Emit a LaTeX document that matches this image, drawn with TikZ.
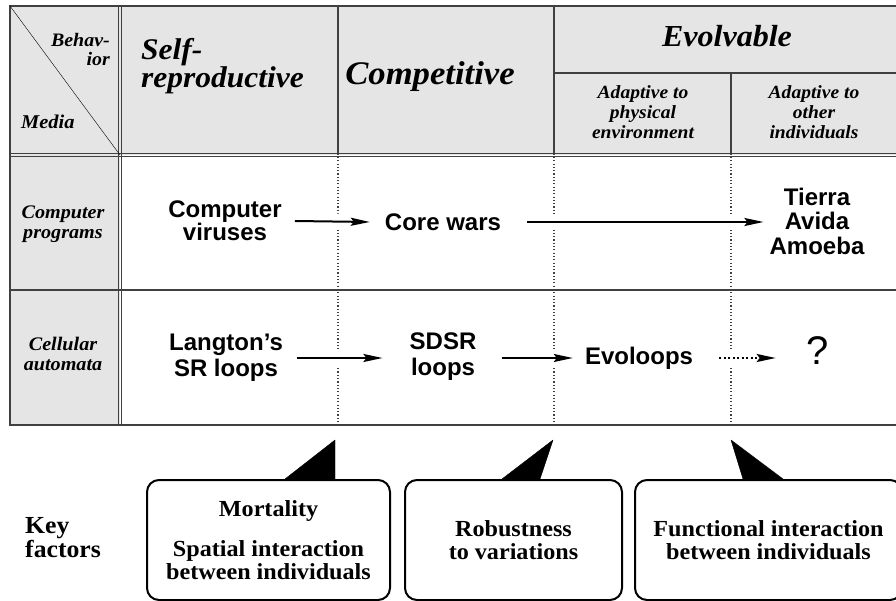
\documentclass[tikz,border=0pt]{standalone}
\usepackage{fontspec}
\setmainfont{Liberation Serif}[FakeStretch=1.05]
\setsansfont{Liberation Sans}
\usetikzlibrary{arrows.meta}
\definecolor{hdrgray}{gray}{0.9}
\definecolor{rulegray}{gray}{0.25}
\tikzset{
  rule/.style={draw=rulegray,line width=1.2pt},
  colsep/.style={draw=rulegray,line width=1.1pt,dash pattern=on 1.1pt off 2.2pt},
  bighdr/.style={inner sep=0pt,font=\bfseries\itshape\fontsize{#1}{28}\selectfont},
  subhdr/.style={inner sep=0pt,align=center,font=\bfseries\itshape\fontsize{18.6}{20}\selectfont},
  rowhdr/.style={inner sep=0pt,align=center,font=\bfseries\itshape\fontsize{19.2}{20}\selectfont},
  item/.style={inner sep=0pt,align=center,font=\sffamily\bfseries\fontsize{24}{#1}\selectfont},
  item/.default=24,
  factor/.style={draw,line width=2pt,rounded corners=12pt,minimum height=120pt,
    align=center,font=\bfseries\fontsize{23}{23}\selectfont},
  flow/.style={line width=2pt,-{Stealth[length=19pt,width=8pt,inset=3pt]},
    preaction={draw=white,line width=16pt,-}},
  guess/.style={flow,dash pattern=on 2pt off 2.5pt},
  pointer/.style={fill=black,draw=black,line join=round}
}
\begin{document}
\begin{tikzpicture}[x=1pt,y=-1pt]
\useasboundingbox (0,0) rectangle (896,601);
\clip (0,0) rectangle (896,601);
\fill[hdrgray] (10,6) rectangle (900,155);
\fill[hdrgray] (10,155) rectangle (120,425);
\draw[rule,line width=2pt] (900,6) -- (10,6) -- (10,425) -- (900,425);
\draw[rule] (118.5,6) -- (118.5,425) (121.5,6) -- (121.5,425);
\draw[rule] (10,153.5) -- (900,153.5) (10,156.5) -- (900,156.5);
\draw[rule] (10,290) -- (900,290);
\draw[thin] (10,6) -- (120,155);
\draw[rule] (338,6) -- (338,155) (554,6) -- (554,155) (554,73) -- (900,73) (731,73) -- (731,155);
\draw[colsep] (338,157) -- (338,425) (554,157) -- (554,425) (731,157) -- (731,425);

\node[inner sep=0pt,align=right,anchor=east,font=\bfseries\itshape\fontsize{19}{19}\selectfont] (behav) at (110,50) {Behav-\\ior};
\node[inner sep=0pt,anchor=west,font=\bfseries\itshape\fontsize{19.5}{19}\selectfont] (media) at (21,122) {Media};
\node[bighdr=30,align=left,anchor=west] (selfrep) at (141,66) {Self-\\reproductive};
\node[bighdr=33] (compet) at (430,77) {Competitive};
\node[bighdr=30.5] (evolv) at (727,36) {Evolvable};
\node[subhdr] (adphys) at (643,112) {Adaptive to\\physical\\environment};
\node[subhdr] (adother) at (814,112) {Adaptive to\\other\\individuals};
\node[rowhdr] (progs) at (63,224) {Computer\\programs};
\node[rowhdr] (cells) at (63,354) {Cellular\\automata};

\node[item=22] (virus) at (225,221) {Computer\\viruses};
\node[item] (core) at (443,222) {Core wars};
\node[item=24.5] (tierra) at (817,221) {Tierra\\Avida\\Amoeba};
\node[item=26] (langton) at (226,358) {Langton’s\\SR loops};
\node[item=26] (sdsr) at (443,357) {SDSR\\loops};
\node[item] (evoloop) at (639,358) {Evoloops};
\node[inner sep=0pt,font=\sffamily\fontsize{40}{40}\selectfont] (unknown) at (818,351) {?};

\draw[flow] ([xshift=13pt]virus.east) -- ([xshift=-15pt]core.west);
\draw[flow] ([xshift=26pt]core.east) -- ([xshift=-6pt]core.east -| tierra.west);
\draw[flow] ([xshift=14pt]langton.east) -- ([xshift=-27pt]langton.east -| sdsr.west);
\draw[flow] ([xshift=25pt]evoloop.west -| sdsr.east) -- ([xshift=-12pt]evoloop.west);
\draw[guess] ([xshift=26pt]evoloop.east) -- ([xshift=-31pt]evoloop.east -| unknown.west);

\node[inner sep=0pt,align=left,anchor=west,font=\bfseries\fontsize{24.5}{24}\selectfont] (keyf) at (25,538) {Key\\factors};
\node[factor,minimum width=243pt] (mortal) at (268.5,540) {Mortality\\[17pt]Spatial interaction\\between individuals};
\node[factor,minimum width=217pt] (robust) at (513.5,540) {Robustness\\to variations};
\node[factor,minimum width=267pt] (funct) at (768.5,540) {Functional interaction\\between individuals};

\coordinate (tip1) at (335,440);
\coordinate (tip2) at (553,440);
\coordinate (tip3) at (731,440);
\draw[pointer] (tip1) -- ([xshift=16.5pt]mortal.north) -- ([xshift=66.5pt]mortal.north) -- cycle;
\draw[pointer] (tip2) -- ([xshift=-11.5pt]robust.north) -- ([xshift=26.5pt]robust.north) -- cycle;
\draw[pointer] (tip3) -- ([xshift=-25.5pt]funct.north) -- ([xshift=14.5pt]funct.north) -- cycle;
\end{tikzpicture}
\end{document}
